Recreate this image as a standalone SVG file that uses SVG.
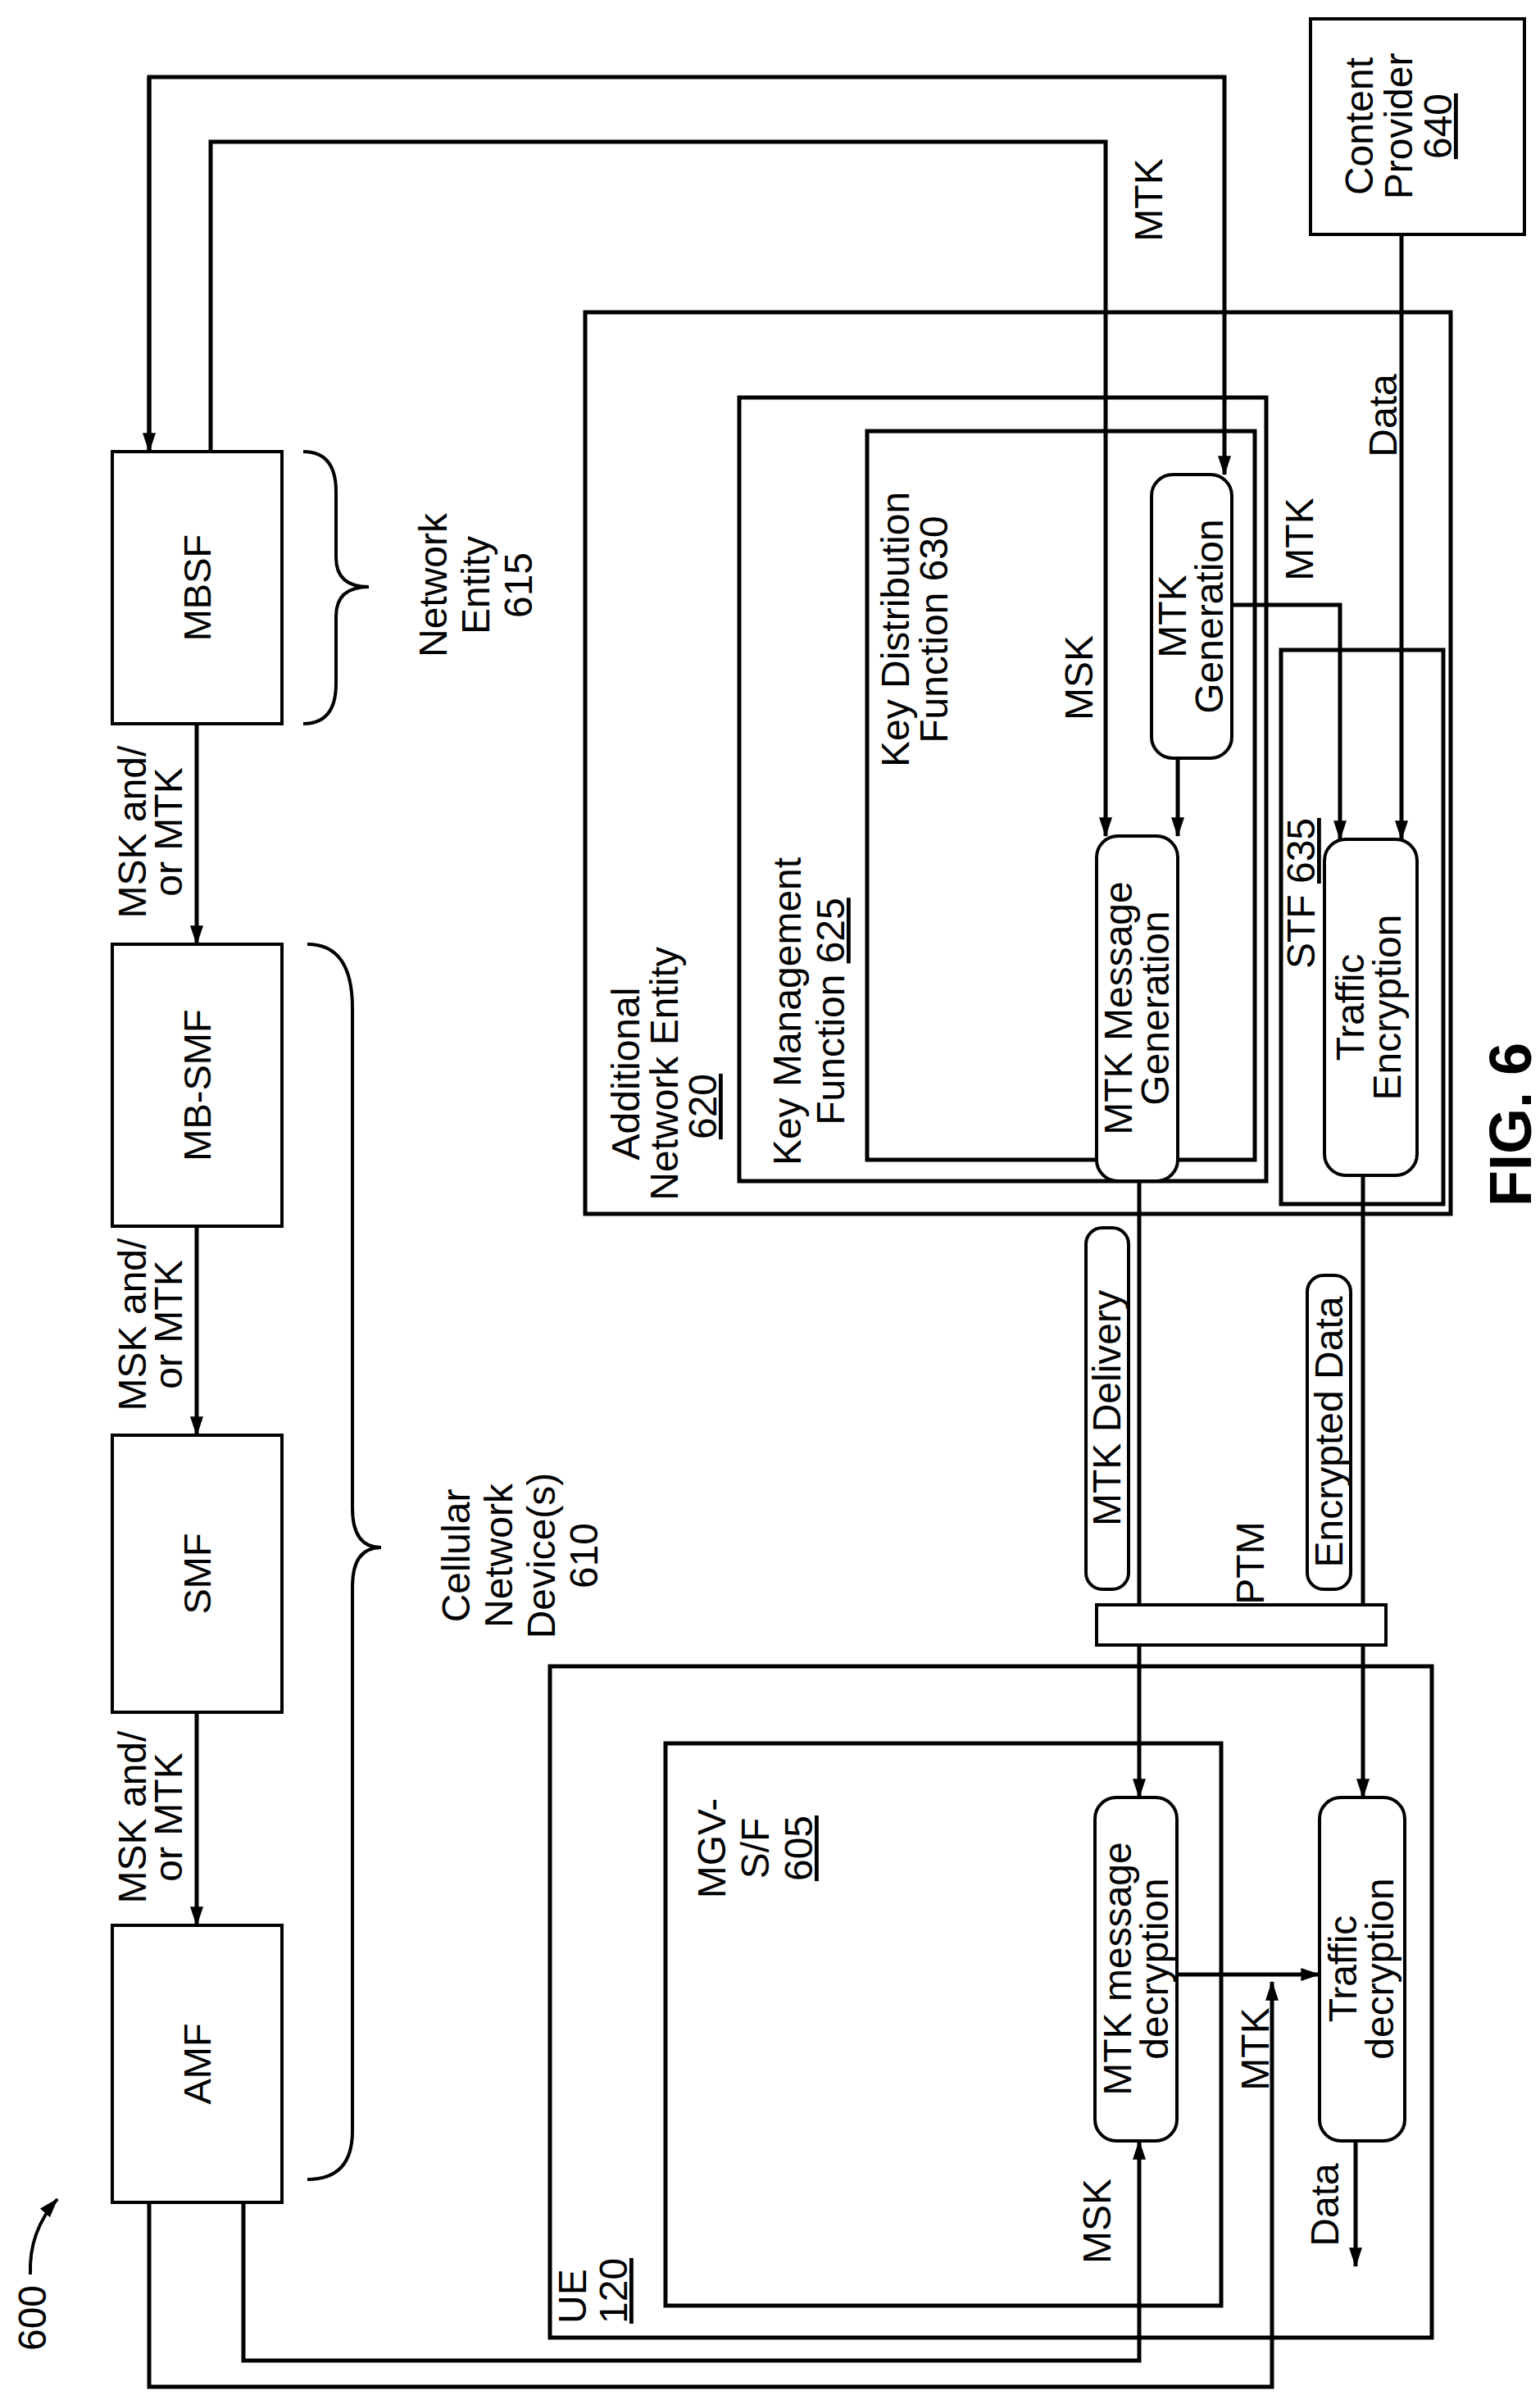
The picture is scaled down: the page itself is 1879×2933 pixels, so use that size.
<svg xmlns="http://www.w3.org/2000/svg" width="1879" height="2933" viewBox="0 0 1879 2933">
<style>
text{font-family:"Liberation Sans",Arial,sans-serif;font-size:48px;fill:#000}
.n{font-size:47px}
.box{fill:#fff;stroke:#000;stroke-width:4}
.cont{fill:none;stroke:#000;stroke-width:5}
.c{fill:none;stroke:#000;stroke-width:5}
.a{marker-end:url(#ah)}
</style>
<defs>
<marker id="ah" markerUnits="userSpaceOnUse" markerWidth="24" markerHeight="36" refX="34" refY="12" orient="auto" viewBox="0 0 36 24">
<path d="M0,0 L36,12 L0,24 Z" fill="#000"/>
</marker>
</defs>

<g id="containers">
<rect id="ane620" class="cont" x="714" y="381" width="1056" height="1100"/>
<rect id="kmf625" class="cont" x="902" y="485" width="643" height="956"/>
<rect id="kdf630" class="cont" x="1058" y="526" width="473" height="889"/>
<rect id="stf635" class="cont" x="1563" y="793" width="198" height="676"/>
<rect id="ue120" class="cont" x="671" y="2033" width="1076" height="819"/>
<rect id="mgv605" class="cont" x="812" y="2127" width="678" height="686"/>
</g>

<g id="connectors">
<path class="c a" d="M182,551 L182,94 L1494,94 L1494,579"/>
<path class="c a" d="M182,94 L182,551"/>
<path class="c a" d="M257,551 L257,173 L1349,173 L1349,1020"/>
<path class="c a" d="M240,883 L240,1152"/>
<path class="c a" d="M240,1496 L240,1751"/>
<path class="c a" d="M240,2089 L240,2349"/>
<path class="c a" d="M1437,925 L1437,1020"/>
<path class="c a" d="M1503,738 L1635,738 L1635,1024"/>
<path class="c a" d="M1710,286 L1710,1024"/>
<path class="c a" d="M1390,1441 L1390,2193"/>
<path class="c a" d="M1663,1434 L1663,2193"/>
<path class="c a" d="M1436,2409 L1610,2409"/>
<path class="c a" d="M297,2687 L297,2880 L1390,2880 L1390,2612"/>
<path class="c a" d="M182,2687 L182,2912 L1552,2912 L1552,2418"/>
<path class="c a" d="M1654,2612 L1654,2765"/>
<path class="c a" d="M37,2775 Q35,2722 70,2683" style="stroke-width:4"/>
<path d="M370,551 Q410,551 410,600 L410,680 Q410,716 450,716 Q410,716 410,752 L410,834 Q410,883 370,883" fill="none" stroke="#000" stroke-width="4"/>
<path d="M375,1152 Q430,1152 430,1230 L430,1840 Q430,1888 465,1888 Q430,1888 430,1936 L430,2600 Q430,2659 375,2659" fill="none" stroke="#000" stroke-width="4"/>
</g>

<g id="mbsf"><rect class="box" x="137" y="551" width="207" height="332"/><text class="n" text-anchor="middle" transform="translate(257,717) rotate(-90)">MBSF</text></g>
<g id="mbsmf"><rect class="box" x="137" y="1152" width="207" height="344"/><text class="n" text-anchor="middle" transform="translate(257,1324) rotate(-90)">MB-SMF</text></g>
<g id="smf"><rect class="box" x="137" y="1751" width="207" height="338"/><text class="n" text-anchor="middle" transform="translate(257,1920) rotate(-90)">SMF</text></g>
<g id="amf"><rect class="box" x="137" y="2349" width="207" height="338"/><text class="n" text-anchor="middle" transform="translate(257,2518) rotate(-90)">AMF</text></g>

<g id="labels-left">
<text text-anchor="middle" transform="translate(178,1015) rotate(-90)">MSK and/</text>
<text text-anchor="middle" transform="translate(222,1015) rotate(-90)">or MTK</text>
<text text-anchor="middle" transform="translate(178,1616) rotate(-90)">MSK and/</text>
<text text-anchor="middle" transform="translate(222,1616) rotate(-90)">or MTK</text>
<text text-anchor="middle" transform="translate(178,2217) rotate(-90)">MSK and/</text>
<text text-anchor="middle" transform="translate(222,2217) rotate(-90)">or MTK</text>
<text text-anchor="middle" transform="translate(545,714) rotate(-90)">Network</text>
<text text-anchor="middle" transform="translate(597,714) rotate(-90)">Entity</text>
<text text-anchor="middle" transform="translate(649,714) rotate(-90)">615</text>
<text text-anchor="middle" transform="translate(573,1898) rotate(-90)">Cellular</text>
<text text-anchor="middle" transform="translate(625,1898) rotate(-90)">Network</text>
<text text-anchor="middle" transform="translate(677,1898) rotate(-90)">Device(s)</text>
<text text-anchor="middle" transform="translate(729,1898) rotate(-90)">610</text>
<text text-anchor="middle" transform="translate(56,2828) rotate(-90)">600</text>
</g>

<g id="container-labels">
<text text-anchor="middle" transform="translate(780,1310) rotate(-90)">Additional</text>
<text text-anchor="middle" transform="translate(827,1310) rotate(-90)">Network Entity</text>
<text text-anchor="middle" transform="translate(874,1350) rotate(-90)" text-decoration="underline">620</text>
<text text-anchor="middle" transform="translate(977,1234) rotate(-90)">Key Management</text>
<text text-anchor="middle" transform="translate(1030,1234) rotate(-90)">Function <tspan text-decoration="underline">625</tspan></text>
<text text-anchor="middle" transform="translate(1109,768) rotate(-90)">Key Distribution</text>
<text text-anchor="middle" transform="translate(1156,768) rotate(-90)">Function 630</text>
<text text-anchor="middle" transform="translate(1604,1090) rotate(-90)">STF <tspan text-decoration="underline">635</tspan></text>
<text text-anchor="start" transform="translate(715,2835) rotate(-90)">UE</text>
<text text-anchor="start" transform="translate(765,2835) rotate(-90)" text-decoration="underline">120</text>
<text text-anchor="middle" transform="translate(885,2255) rotate(-90)">MGV-</text>
<text text-anchor="middle" transform="translate(938,2255) rotate(-90)">S/F</text>
<text text-anchor="middle" transform="translate(991,2255) rotate(-90)" text-decoration="underline">605</text>
<text text-anchor="middle" transform="translate(1868,1372) rotate(-90)" style="font-size:72px;font-weight:bold">FIG. 6</text>
</g>

<g id="content-provider"><rect class="box" x="1599" y="23" width="261" height="263"/>
<text text-anchor="middle" transform="translate(1675,154) rotate(-90)">Content</text>
<text text-anchor="middle" transform="translate(1723,154) rotate(-90)">Provider</text>
<text text-anchor="middle" transform="translate(1771,154) rotate(-90)" text-decoration="underline">640</text></g>

<g id="mtk-generation"><rect class="box" x="1405" y="579" width="98" height="346" rx="26"/>
<text text-anchor="middle" transform="translate(1447,752) rotate(-90)">MTK</text>
<text text-anchor="middle" transform="translate(1492,752) rotate(-90)">Generation</text></g>

<g id="mtk-message-generation"><rect class="box" x="1338" y="1020" width="99" height="421" rx="26"/>
<text text-anchor="middle" transform="translate(1381,1230) rotate(-90)">MTK Message</text>
<text text-anchor="middle" transform="translate(1426,1230) rotate(-90)">Generation</text></g>

<g id="traffic-encryption"><rect class="box" x="1616" y="1024" width="113" height="410" rx="26"/>
<text text-anchor="middle" transform="translate(1664,1229) rotate(-90)">Traffic</text>
<text text-anchor="middle" transform="translate(1709,1229) rotate(-90)">Encryption</text></g>

<g id="mtk-message-decryption"><rect class="box" x="1336" y="2193" width="100" height="419" rx="26"/>
<text text-anchor="middle" transform="translate(1380,2402) rotate(-90)">MTK message</text>
<text text-anchor="middle" transform="translate(1425,2402) rotate(-90)">decryption</text></g>

<g id="traffic-decryption"><rect class="box" x="1610" y="2193" width="104" height="419" rx="26"/>
<text text-anchor="middle" transform="translate(1655,2402) rotate(-90)">Traffic</text>
<text text-anchor="middle" transform="translate(1700,2402) rotate(-90)">decryption</text></g>

<g id="ptm"><rect class="box" x="1338" y="1958" width="353" height="49"/>
<text text-anchor="middle" transform="translate(1542,1907) rotate(-90)">PTM</text></g>

<g id="mtk-delivery"><rect class="box" x="1325" y="1498" width="52" height="441" rx="20"/>
<text text-anchor="middle" transform="translate(1367,1718) rotate(-90)">MTK Delivery</text></g>

<g id="encrypted-data"><rect class="box" x="1595" y="1556" width="53" height="383" rx="20"/>
<text text-anchor="middle" transform="translate(1638,1747) rotate(-90)">Encrypted Data</text></g>

<g id="edge-labels">
<text text-anchor="middle" transform="translate(1418,244) rotate(-90)">MTK</text>
<text text-anchor="middle" transform="translate(1333,827) rotate(-90)">MSK</text>
<text text-anchor="middle" transform="translate(1602,658) rotate(-90)">MTK</text>
<text text-anchor="middle" transform="translate(1704,507) rotate(-90)">Data</text>
<text text-anchor="middle" transform="translate(1355,2710) rotate(-90)">MSK</text>
<text text-anchor="middle" transform="translate(1548,2500) rotate(-90)">MTK</text>
<text text-anchor="middle" transform="translate(1633,2690) rotate(-90)">Data</text>
</g>
</svg>
